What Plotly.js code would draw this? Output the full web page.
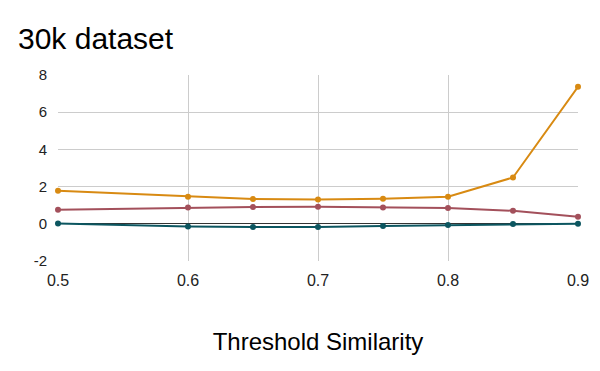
<!DOCTYPE html>
<html>
<head>
<meta charset="utf-8">
<script src="https://cdn.plot.ly/plotly-3.0.1.min.js"></script>
<style>html,body{margin:0;padding:0;background:#fff;}#chart{width:600px;height:371px;}</style>
</head>
<body>
<div id="chart"></div>
<script>
var thresholds = [0.5, 0.6, 0.65, 0.7, 0.75, 0.8, 0.85, 0.9];
var seriesOrange = [1.78, 1.46, 1.33, 1.31, 1.35, 1.46, 2.49, 7.37];
var seriesRed = [0.76, 0.87, 0.90, 0.92, 0.88, 0.85, 0.70, 0.38];
var seriesTeal = [0.02, -0.14, -0.17, -0.17, -0.12, -0.07, -0.01, 0.0];
var xTicks = [0.5, 0.6, 0.7, 0.8, 0.9];
var xTickLabels = ["0.5", "0.6", "0.7", "0.8", "0.9"];
var yTicks = [-2, 0, 2, 4, 6, 8];
var yTickLabels = ["-2", "0", "2", "4", "6", "8"];

function trace(y, color) {
  return {
    x: thresholds, y: y, type: 'scatter', mode: 'lines+markers',
    line: {color: color, width: 2}, marker: {color: color, size: 6},
    showlegend: false, hoverinfo: 'skip', cliponaxis: false
  };
}
var data = [
  trace(seriesOrange, '#d88a12'),
  trace(seriesRed, '#a3505b'),
  trace(seriesTeal, '#0c5660')
];
var font = "'Liberation Sans', Arial, sans-serif";
var layout = {
  width: 600, height: 371,
  margin: {l: 58, r: 22, t: 75, b: 110},
  paper_bgcolor: '#fff', plot_bgcolor: '#fff',
  font: {family: font, color: '#222'},
  title: {text: '30k dataset', x: 18/600, xanchor: 'left', y: 1 - 38/371, yanchor: 'middle',
          font: {family: font, size: 30, color: '#000'}},
  xaxis: {
    range: [0.5, 0.9], tickvals: xTicks, ticktext: xTickLabels,
    showgrid: true, gridcolor: '#cccccc', gridwidth: 1, zeroline: false,
    showline: false, ticks: '', ticklabelstandoff: 8, tickfont: {size: 16, color: '#222', family: font},
    title: {text: 'Threshold Similarity', font: {size: 24, color: '#000', family: font}, standoff: 45}
  },
  yaxis: {
    range: [-2, 8], tickvals: yTicks, ticktext: yTickLabels,
    showgrid: true, gridcolor: '#cccccc', gridwidth: 1,
    zeroline: true, zerolinecolor: '#333333', zerolinewidth: 1,
    showline: false, ticks: '', ticklabelstandoff: 10, tickfont: {size: 15, color: '#222', family: font}
  }
};
Plotly.newPlot('chart', data, layout, {staticPlot: true, displayModeBar: false});
</script>
</body>
</html>
